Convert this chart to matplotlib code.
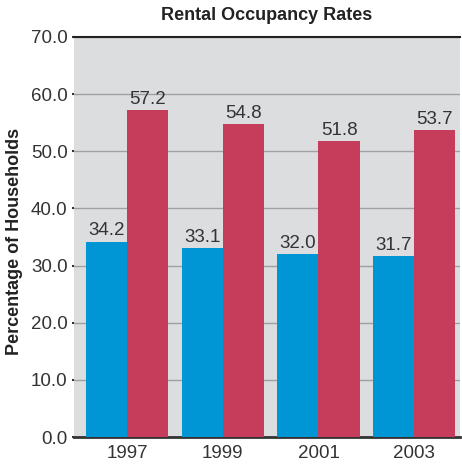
import numpy as np
import matplotlib.pyplot as plt

# Data
years = ['1997', '1999', '2001', '2003']
blue_vals = [34.2, 33.1, 32.0, 31.7]
red_vals = [57.2, 54.8, 51.8, 53.7]
yticks = [0, 10, 20, 30, 40, 50, 60, 70]

plt.rcParams['font.family'] = ['Liberation Sans', 'DejaVu Sans']

fig = plt.figure(figsize=(4.62, 4.68), dpi=100)
ax = fig.add_axes([0.160, 0.066, 0.836, 0.855])
ax.set_facecolor('#dcdddf')

x = np.arange(len(years))
w = 0.43
b1 = ax.bar(x - w / 2, blue_vals, w, color='#0096d6', zorder=3)
b2 = ax.bar(x + w / 2, red_vals, w, color='#c63d5c', zorder=3)

for bars in (b1, b2):
    for r in bars:
        ax.text(r.get_x() + r.get_width() / 2, r.get_height() + 0.4,
                f'{r.get_height():.1f}', ha='center', va='bottom',
                fontsize=13.5, color='#333333', zorder=4)

ax.set_xlim(-0.554, 3.48)
ax.set_ylim(0, 70)
ax.set_yticks(yticks)
ax.set_yticklabels([f'{v:.1f}' for v in yticks], fontsize=13.5, color='#333333')
ax.set_xticks(x)
ax.set_xticklabels(years, fontsize=13.5, color='#333333')
ax.tick_params(axis='x', length=0, pad=6)
ax.tick_params(axis='y', length=1.5, width=1.5, color='#333333', pad=3)

ax.yaxis.grid(True, color='#a0a0a0', linewidth=1, zorder=1)
ax.set_axisbelow(True)

for s in ['left', 'right']:
    ax.spines[s].set_visible(False)
ax.spines['top'].set_color('#222222')
ax.spines['top'].set_linewidth(1.5)
ax.spines['bottom'].set_color('#333333')
ax.spines['bottom'].set_linewidth(2)

ax.set_ylabel('Percentage of Households', fontsize=13, fontweight='bold',
              color='#222222')
ax.yaxis.set_label_coords(-0.133, 0.49)
ax.set_title('Rental Occupancy Rates', fontsize=13, fontweight='bold',
             color='#222222', pad=12)

fig.savefig('out.png', dpi=100)
